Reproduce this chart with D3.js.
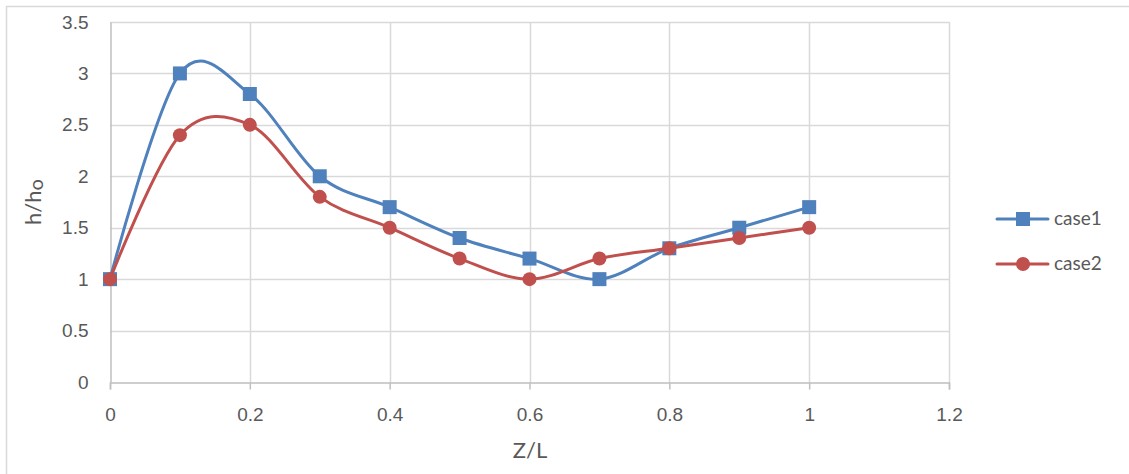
<!DOCTYPE html>
<html>
<head>
<meta charset="utf-8">
<script src="https://cdn.jsdelivr.net/npm/d3@7"></script>
<style>
  html, body { margin: 0; padding: 0; background: #fff; }
  svg { display: block; font-family: Lato, "Open Sans", sans-serif; }
</style>
</head>
<body>
<svg id="chart" width="1129" height="474"></svg>
<script>
// Relative depth along the channel (Z/L)
const zValues = [0, 0.1, 0.2, 0.3, 0.4, 0.5, 0.6, 0.7, 0.8, 0.9, 1.0];
// Normalised heights h/ho for each case
const case1 = [1, 3, 2.8, 2, 1.7, 1.4, 1.2, 1, 1.3, 1.5, 1.7];
const case2 = [1, 2.4, 2.5, 1.8, 1.5, 1.2, 1, 1.2, 1.3, 1.4, 1.5];
const seriesNames = ["case1", "case2"];
const xTicks = [0, 0.2, 0.4, 0.6, 0.8, 1, 1.2];
const yTicks = [0, 0.5, 1, 1.5, 2, 2.5, 3, 3.5];

const colors = { case1: "#4f81bd", case2: "#c0504d" };

const svg = d3.select("#chart");
const plot = { left: 110, right: 949, top: 22, bottom: 382 };

const x = d3.scaleLinear().domain([0, 1.2]).range([plot.left, plot.right]);
const y = d3.scaleLinear().domain([0, 3.5]).range([plot.bottom, plot.top]);

// outer chart frame
svg.append("rect")
  .attr("x", 6.5).attr("y", 6.5)
  .attr("width", 1140).attr("height", 480)
  .attr("fill", "none").attr("stroke", "#d9d9d9").attr("stroke-width", 1.5);

const grid = svg.append("g");
// horizontal gridlines
grid.selectAll("line.h").data(yTicks.slice(1)).join("line")
  .attr("x1", plot.left).attr("x2", plot.right)
  .attr("y1", d => Math.round(y(d)) + 0.5).attr("y2", d => Math.round(y(d)) + 0.5)
  .attr("stroke", "#d9d9d9").attr("stroke-width", 1.5);
// vertical gridlines
grid.selectAll("line.v").data(xTicks.slice(1)).join("line")
  .attr("x1", d => Math.round(x(d)) + 0.5).attr("x2", d => Math.round(x(d)) + 0.5)
  .attr("y1", plot.top).attr("y2", plot.bottom)
  .attr("stroke", "#d9d9d9").attr("stroke-width", 1.5);

// x axis with outward ticks
const xAxis = svg.append("g")
  .attr("transform", `translate(0,${Math.round(y(0)) + 0.5})`)
  .call(d3.axisBottom(x).tickValues(xTicks).tickSize(7)
    .tickFormat(d3.format("")));
xAxis.select(".domain").attr("stroke", "#bfbfbf").attr("stroke-width", 1.5);
xAxis.selectAll(".tick line").attr("stroke", "#bfbfbf").attr("stroke-width", 1.5);
xAxis.selectAll("text")
  .attr("y", 38.5).attr("dy", null)
  .attr("fill", "#595959").attr("font-size", 19);

// y axis
const yAxis = svg.append("g")
  .attr("transform", `translate(${Math.round(x(0)) + 0.5},0)`)
  .call(d3.axisLeft(y).tickValues(yTicks).tickSize(0).tickPadding(22)
    .tickFormat(d3.format("")));
yAxis.select(".domain").attr("stroke", "#bfbfbf").attr("stroke-width", 1.5);
yAxis.selectAll("text").attr("fill", "#595959").attr("font-size", 19);

// axis titles
svg.append("text")
  .attr("x", 530).attr("y", 458)
  .attr("text-anchor", "middle").attr("fill", "#595959").attr("font-size", 22)
  .text("Z/L");

const yTitle = svg.append("text")
  .attr("transform", "translate(41,202) rotate(-90)")
  .attr("text-anchor", "middle").attr("fill", "#595959").attr("font-size", 22);
yTitle.append("tspan").text("h/h");
yTitle.append("tspan").attr("font-size", 20).attr("dy", 2).text("o");

const line = d3.line()
  .x((d, i) => x(zValues[i]))
  .y(d => y(d))
  .curve(d3.curveCardinal.tension(0));

const data = { case1, case2 };

seriesNames.forEach(name => {
  const g = svg.append("g");
  g.append("path")
    .datum(data[name])
    .attr("d", line)
    .attr("fill", "none")
    .attr("stroke", colors[name])
    .attr("stroke-width", 3)
    .attr("stroke-linecap", "round");
  if (name === "case1") {
    g.selectAll("rect").data(data[name]).join("rect")
      .attr("x", (d, i) => x(zValues[i]) - 7)
      .attr("y", d => y(d) - 7)
      .attr("width", 14).attr("height", 14)
      .attr("fill", colors[name]);
  } else {
    g.selectAll("circle").data(data[name]).join("circle")
      .attr("cx", (d, i) => x(zValues[i]))
      .attr("cy", d => y(d))
      .attr("r", 7)
      .attr("fill", colors[name]);
  }
});

// legend
const legend = svg.append("g");
seriesNames.forEach((name, i) => {
  const ly = 219 + i * 45;
  const row = legend.append("g");
  row.append("line")
    .attr("x1", 997).attr("x2", 1048)
    .attr("y1", ly).attr("y2", ly)
    .attr("stroke", colors[name]).attr("stroke-width", 3)
    .attr("stroke-linecap", "round");
  if (name === "case1") {
    row.append("rect").attr("x", 1016).attr("y", ly - 7)
      .attr("width", 14).attr("height", 14).attr("fill", colors[name]);
  } else {
    row.append("circle").attr("cx", 1023).attr("cy", ly).attr("r", 7)
      .attr("fill", colors[name]);
  }
  row.append("text")
    .attr("x", 1054).attr("y", ly + 6)
    .attr("fill", "#595959").attr("font-size", 19)
    .text(name);
});
</script>
</body>
</html>
